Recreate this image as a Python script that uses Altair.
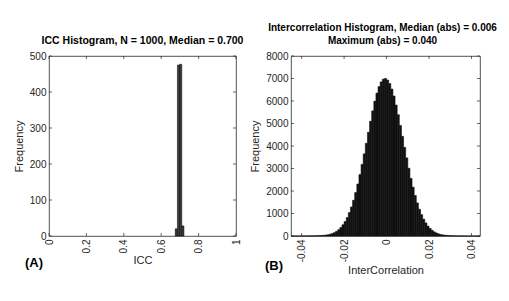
import altair as alt
import pandas as pd

# ---------------- data ----------------
icc_lo = [0.6750, 0.6867, 0.6983, 0.7100]
icc_hi = [0.6867, 0.6983, 0.7100, 0.7217]
icc_count = [20, 475, 477, 28]

icc_xticks = [0, 0.2, 0.4, 0.6, 0.8, 1.0]
icc_yticks = [0, 100, 200, 300, 400, 500]

ic_start = -0.045
ic_binwidth = 0.001
ic_counts = [
    0, 0, 1, 1, 1, 2, 2, 3, 4, 5, 7, 9, 12, 16, 22, 30, 40, 54, 78, 110,
    150, 207, 280, 375, 500, 640, 820, 1040, 1290, 1590, 1930, 2310, 2730,
    3180, 3650, 4120, 4610, 5100, 5560, 5990, 6350, 6640, 6850, 6970, 7000,
    6930, 6775, 6530, 6220, 5820, 5390, 4910, 4430, 3940, 3470, 3010, 2560,
    2170, 1800, 1470, 1190, 950, 750, 580, 440, 335, 250, 182, 135, 96, 67,
    48, 35, 26, 19, 14, 10, 7, 5, 4, 3, 2, 2, 1, 1, 1, 0, 0, 0,
]
ic_xticks = [-0.04, -0.02, 0, 0.02, 0.04]
ic_yticks = [0, 1000, 2000, 3000, 4000, 5000, 6000, 7000, 8000]

title_a = "ICC Histogram, N = 1000, Median = 0.700"
title_b = ["Intercorrelation Histogram, Median (abs) = 0.006", "Maximum (abs) = 0.040"]

# ---------------- tables ----------------
icc_df = pd.DataFrame({"lo": icc_lo, "hi": icc_hi, "count": icc_count})
ic_df = pd.DataFrame({
    "lo": [ic_start + i * ic_binwidth for i in range(len(ic_counts))],
    "hi": [ic_start + (i + 1) * ic_binwidth for i in range(len(ic_counts))],
    "count": ic_counts,
})

FONT = "Liberation Sans"
AX = "#262626"
W, H = 187, 180
W2 = 189
TL = 3  # inward tick length


def inward_ticks(xvals, yvals, xenc, yenc, w, h):
    xt = pd.DataFrame({"v": xvals})
    yt = pd.DataFrame({"v": yvals})
    base_x = alt.Chart(xt).mark_rule(color=AX, strokeWidth=0.7)
    base_y = alt.Chart(yt).mark_rule(color=AX, strokeWidth=0.7)
    return [
        base_x.encode(x=xenc("v:Q"), y=alt.value(h), y2=alt.value(h - TL)),
        base_x.encode(x=xenc("v:Q"), y=alt.value(0), y2=alt.value(TL)),
        base_y.encode(y=yenc("v:Q"), x=alt.value(0), x2=alt.value(TL)),
        base_y.encode(y=yenc("v:Q"), x=alt.value(w), x2=alt.value(w - TL)),
    ]


def panel_label(text, dx, dy):
    return alt.Chart(pd.DataFrame({"t": [text]})).mark_text(
        font=FONT, fontSize=13, fontWeight="bold", color="#000", align="left", baseline="middle"
    ).encode(x=alt.value(dx), y=alt.value(dy), text="t:N")


# ---------------- left panel ----------------
def x1(f):
    return alt.X(f, scale=alt.Scale(domain=[0, 1], nice=False, zero=False),
                 axis=alt.Axis(values=icc_xticks, format="~g", labelAngle=270, title="ICC",
                               titlePadding=2))


def y1(f):
    return alt.Y(f, scale=alt.Scale(domain=[0, 500], nice=False),
                 axis=alt.Axis(values=icc_yticks, format="d", title="Frequency"))


bars1 = alt.Chart(icc_df).mark_rect(fill="#3c3c3c", stroke="#000", strokeWidth=0.5).encode(
    x=x1("lo:Q"), x2="hi:Q", y=y1("count:Q"),
)
left = alt.layer(
    bars1, *inward_ticks(icc_xticks, icc_yticks, x1, y1, W, H), panel_label("(A)", -24, H + 27)
).properties(
    width=W, height=H,
    title=alt.TitleParams(title_a, font=FONT, fontSize=10.5, fontWeight="bold", color="#000", offset=5),
)

# ---------------- right panel ----------------
LBL = "datum.value == 0 ? '0' : (datum.value < 0 ? '-' + format(-datum.value, '.2f') : format(datum.value, '.2f'))"


def x2(f):
    return alt.X(f, scale=alt.Scale(domain=[-0.045, 0.044], nice=False, zero=False),
                 axis=alt.Axis(values=ic_xticks, labelAngle=270, title="InterCorrelation", labelExpr=LBL,
                               titlePadding=3))


def y2(f):
    return alt.Y(f, scale=alt.Scale(domain=[0, 8000], nice=False),
                 axis=alt.Axis(values=ic_yticks, format="d", title="Frequency"))


bars2 = alt.Chart(ic_df).mark_rect(fill="#111111", stroke="#111111", strokeWidth=0.6).encode(
    x=x2("lo:Q"), x2="hi:Q", y=y2("count:Q"),
)
right = alt.layer(
    bars2, *inward_ticks(ic_xticks, ic_yticks, x2, y2, W2, H), panel_label("(B)", -26, H + 30)
).properties(
    width=W2, height=H,
    title=alt.TitleParams(title_b, font=FONT, fontSize=10, fontWeight="bold", color="#000",
                          offset=5, lineHeight=13, dx=-3),
)

chart = alt.hconcat(left, right, spacing=55, bounds="flush").properties(
    padding={"left": 4, "top": 14, "right": 0, "bottom": 0},
    background="white",
).configure_view(
    stroke=AX, strokeWidth=0.8
).configure_axis(
    domain=False, ticks=False, grid=False,
    labelFont=FONT, labelFontSize=10, labelColor=AX, labelPadding=3,
    titleFont=FONT, titleFontSize=11, titleFontWeight="normal", titleColor=AX, titlePadding=5,
)

chart.save("out.html", embed_options={"renderer": "svg", "actions": False})
